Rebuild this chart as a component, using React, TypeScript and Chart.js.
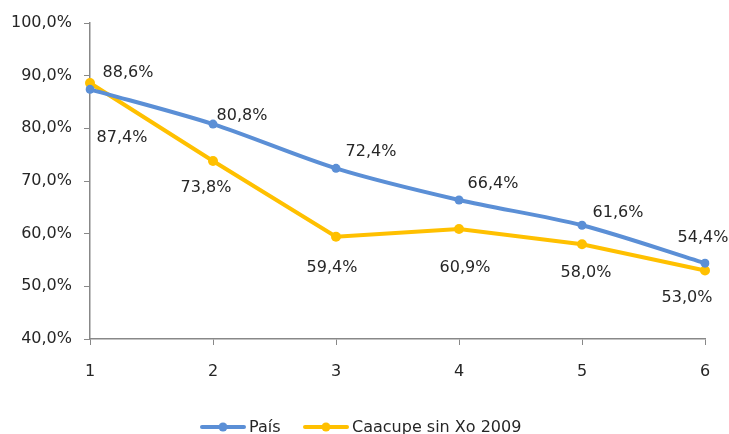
import React, { useEffect, useRef } from "react";
import { Chart, registerables } from "chart.js";

Chart.register(...registerables);

const categories = ["1", "2", "3", "4", "5", "6"];
const paisValues = [87.4, 80.8, 72.4, 66.4, 61.6, 54.4];
const caacupeValues = [88.6, 73.8, 59.4, 60.9, 58.0, 53.0];
const seriesNames = ["País", "Caacupe sin Xo 2009"];
const yTicks = [40, 50, 60, 70, 80, 90, 100];

const BLUE = "#5B8FD6";
const YELLOW = "#FFC000";
const FONT = "'DejaVu Sans', sans-serif";
const TEXT = "#262626";

// label offsets (style): [dx, dy] from point to label centre
const paisLabelOffsets = [
  [32, 48],
  [29, -8],
  [35, -17],
  [34, -16],
  [36, -12],
  [-2, -25],
];
const caacupeLabelOffsets = [
  [38, -10],
  [-7, 27],
  [-4, 31],
  [6, 39],
  [4, 29],
  [-18, 27],
];

const fmt = (v: number) => v.toFixed(1).replace(".", ",") + "%";

const labelPlugin = {
  id: "dataLabels",
  afterDatasetsDraw(chart: any) {
    const ctx = chart.ctx;
    ctx.save();
    ctx.font = `16px ${FONT}`;
    ctx.fillStyle = TEXT;
    ctx.textAlign = "center";
    ctx.textBaseline = "middle";
    const offsets = [paisLabelOffsets, caacupeLabelOffsets];
    chart.data.datasets.forEach((ds: any, di: number) => {
      const meta = chart.getDatasetMeta(di);
      meta.data.forEach((pt: any, i: number) => {
        const [dx, dy] = offsets[di][i];
        ctx.fillText(fmt(ds.data[i]), pt.x + dx, pt.y + dy);
      });
    });
    ctx.restore();
  },
};

const legendPlugin = {
  id: "customLegend",
  afterDraw(chart: any) {
    const ctx = chart.ctx;
    ctx.save();
    ctx.font = `16px ${FONT}`;
    ctx.textBaseline = "middle";
    ctx.textAlign = "left";
    const y = 427;
    const items = [
      { x: 202, color: BLUE, text: seriesNames[0] },
      { x: 305, color: YELLOW, text: seriesNames[1] },
    ];
    items.forEach((it) => {
      ctx.strokeStyle = it.color;
      ctx.lineWidth = 4;
      ctx.lineCap = "round";
      ctx.beginPath();
      ctx.moveTo(it.x, y);
      ctx.lineTo(it.x + 42, y);
      ctx.stroke();
      ctx.fillStyle = it.color;
      ctx.beginPath();
      ctx.arc(it.x + 21, y, 4.5, 0, Math.PI * 2);
      ctx.fill();
      ctx.fillStyle = TEXT;
      ctx.fillText(it.text, it.x + 47, y + 1);
    });
    ctx.restore();
  },
};

export default function App() {
  const ref = useRef<HTMLCanvasElement>(null);
  useEffect(() => {
    document.body.style.margin = "0";
    if (!ref.current) return;
    const chart = new Chart(ref.current, {
      type: "line",
      data: {
        labels: categories,
        datasets: [
          {
            label: seriesNames[0],
            data: paisValues,
            borderColor: BLUE,
            backgroundColor: BLUE,
            borderWidth: 4,
            pointRadius: 4.5,
            pointBorderWidth: 0,
            tension: 0.3,
          },
          {
            label: seriesNames[1],
            data: caacupeValues,
            borderColor: YELLOW,
            backgroundColor: YELLOW,
            borderWidth: 4,
            pointRadius: 5,
            pointBorderWidth: 0,
            tension: 0,
          },
        ],
      },
      options: {
        animation: false,
        responsive: false,
        devicePixelRatio: 1,
        layout: { padding: { left: 0, right: 24, top: 23, bottom: 45 } },
        plugins: {
          legend: { display: false },
          tooltip: { enabled: false },
        },
        scales: {
          x: {
            offset: false,
            grid: {
              drawOnChartArea: false,
              drawTicks: true,
              tickLength: 6,
              color: "#888888",
            },
            border: { color: "#888888", width: 1.5 },
            ticks: {
              color: TEXT,
              font: { family: FONT, size: 16 },
              padding: 17,
              maxRotation: 0,
            },
            afterFit: (s: any) => {
              s.height = 50;
            },
          },
          y: {
            min: 40,
            max: 100,
            afterBuildTicks: (s: any) => {
              s.ticks = yTicks.map((v) => ({ value: v }));
            },
            grid: {
              drawOnChartArea: false,
              drawTicks: true,
              tickLength: 6,
              color: "#888888",
            },
            border: { color: "#888888", width: 1.5 },
            ticks: {
              color: TEXT,
              font: { family: FONT, size: 16 },
              padding: 12,
              callback: (v: any) => fmt(Number(v)),
            },
            afterFit: (s: any) => {
              s.width = 90;
            },
          },
        },
      },
      plugins: [labelPlugin, legendPlugin],
    });
    return () => chart.destroy();
  }, []);
  return (
    <div style={{ width: 729, height: 434, background: "#fff" }}>
      <canvas ref={ref} width={729} height={434} />
    </div>
  );
}
